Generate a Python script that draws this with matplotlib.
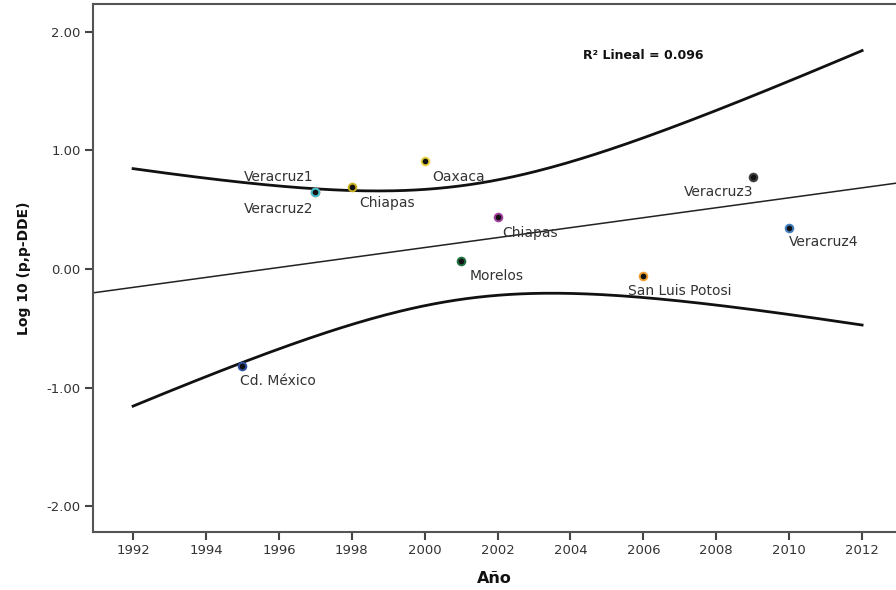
import numpy as np
import matplotlib
matplotlib.use("Agg")
import matplotlib.pyplot as plt

# Puntos (estado, año, log10 p,p-DDE)
labels = ["Cd. México", "Veracruz1", "Veracruz2", "Chiapas", "Oaxaca",
          "Morelos", "Chiapas", "San Luis Potosi", "Veracruz3", "Veracruz4"]
years = [1995, 1997, 1997, 1998, 2000, 2001, 2002, 2006, 2009, 2010]
log_dde = [-0.82, 0.65, 0.65, 0.695, 0.91, 0.065, 0.44, -0.057, 0.78, 0.343]
point_colors = ["#3050a0", "#e05050", "#40c0d0", "#c8b020", "#e8d040",
                "#207040", "#a040a0", "#f0a030", "#404040", "#4080c0"]

# ajuste lineal mostrado
fit_at_1992 = -0.155
fit_slope = 0.042
# banda de confianza de la media: semiancho = sqrt(h0^2 + k^2 (x - xc)^2)
band_xc = 2001.1
band_h0 = 0.479
band_k = 0.0967
r2_text = "R² Lineal = 0.096"

x_ticks = list(range(1992, 2013, 2))
y_ticks = [-2.0, -1.0, 0.0, 1.0, 2.0]

# desplazamiento de etiquetas en pixeles (dx, dy)
label_offsets = [(35, -15), (-37, 15), (-37, -17), (35, -16), (34, -16),
                 (35, -15), (32, -16), (36, -15), (-34, -15), (34, -14)]

fig = plt.figure(figsize=(8.96, 5.90), dpi=100)
ax = fig.add_axes([93 / 896, 58 / 590, (896 - 93) / 896, 528 / 590])

ax.set_xlim(1990.90, 2012.93)
ax.set_ylim(-2.219, 2.236)

# regression line across whole axis
xl = np.array(ax.get_xlim())
ax.plot(xl, fit_at_1992 + fit_slope * (xl - 1992), color="#222222", lw=1.1)

# confidence band 1992-2012
xb = np.linspace(1992, 2012, 200)
yfit = fit_at_1992 + fit_slope * (xb - 1992)
hw = np.sqrt(band_h0 ** 2 + band_k ** 2 * (xb - band_xc) ** 2)
ax.plot(xb, yfit + hw, color="#111111", lw=2.0)
ax.plot(xb, yfit - hw, color="#111111", lw=2.0)

for name, x, y, c, (dx, dy) in zip(labels, years, log_dde, point_colors, label_offsets):
    ax.plot(x, y, "o", ms=5.5, mfc="#111111", mec=c, mew=1.4, zorder=5)
    ax.annotate(name, (x, y), xytext=(dx, dy), textcoords="offset pixels",
                ha="center", va="center", fontsize=10, color="#333333")

ax.text(2006.0, 1.80, r2_text, ha="center", va="center",
        fontsize=9, fontweight="bold", color="#111111")

ax.set_xticks(x_ticks)
ax.set_yticks(y_ticks)
ax.set_yticklabels([f"{v:.2f}" for v in y_ticks])
ax.tick_params(axis="both", direction="out", length=6, width=1.5,
               color="#444444", labelsize=9.5, labelcolor="#333333", pad=3)

for side in ["left", "bottom", "top"]:
    ax.spines[side].set_linewidth(1.5)
    ax.spines[side].set_color("#555555")
ax.spines["right"].set_visible(False)

ax.set_xlabel("Año", fontsize=11.5, fontweight="bold", color="#111111", labelpad=10)
ax.set_ylabel("Log 10 (p,p-DDE)", fontsize=10, fontweight="bold", color="#111111", labelpad=11)

fig.savefig("out.png", dpi=100)
